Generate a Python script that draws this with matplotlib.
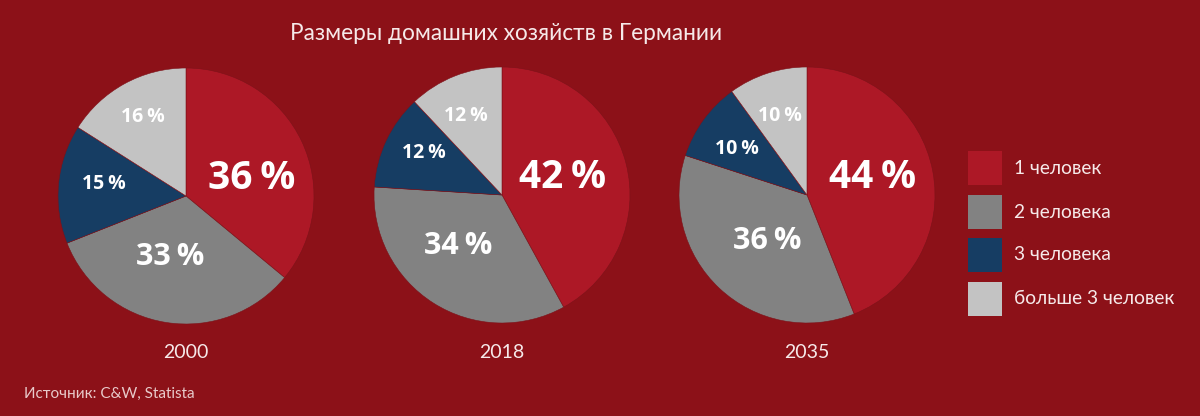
import matplotlib
matplotlib.use("Agg")
import matplotlib.pyplot as plt
from matplotlib.patches import Rectangle

# ---- data ----
years = ["2000", "2018", "2035"]
categories = ["1 человек", "2 человека", "3 человека", "больше 3 человек"]
shares_2000 = [36, 33, 15, 16]
shares_2018 = [42, 34, 12, 12]
shares_2035 = [44, 36, 10, 10]
all_shares = [shares_2000, shares_2018, shares_2035]
title = "Размеры домашних хозяйств в Германии"
source = "Источник: C&W, Statista"

# ---- style ----
W, H = 1200, 416
bg = "#8c1118"
colors = ["#ad1826", "#828282", "#163d63", "#c3c3c3"]
txt = "#f6e9e9"
font = ["Lato", "DejaVu Sans"]
bold_font = ["Open Sans", "DejaVu Sans"]

fig = plt.figure(figsize=(W / 100, H / 100), dpi=100)
fig.patch.set_facecolor(bg)

centers = [(186, 196), (502, 195), (807, 195)]
radius = 128
# label positions in units of radius (x, y), and font sizes
label_pos = [
    [(0.51, 0.14), (-0.12, -0.48), (-0.64, 0.09), (-0.34, 0.62)],
    [(0.47, 0.14), (-0.34, -0.40), (-0.61, 0.33), (-0.28, 0.62)],
    [(0.51, 0.14), (-0.31, -0.36), (-0.55, 0.36), (-0.21, 0.62)],
]
label_sizes = [28, 22, 14, 14]

for i, (shares, (cx, cy)) in enumerate(zip(all_shares, centers)):
    ax = fig.add_axes([(cx - radius) / W, (H - cy - radius) / H,
                       2 * radius / W, 2 * radius / H])
    ax.pie(shares, colors=colors, startangle=90, counterclock=False,
           wedgeprops=dict(edgecolor="#7d1219", linewidth=0.4))
    ax.set_xlim(-1, 1)
    ax.set_ylim(-1, 1)
    ax.set_aspect("equal")
    ax.axis("off")
    for j, v in enumerate(shares):
        x, y = label_pos[i][j]
        ax.text(x, y, f"{v}\u2009%", ha="center", va="center", color="white",
                fontsize=label_sizes[j], fontweight="bold", family=bold_font)
    fig.text(cx / W, 1 - 353 / H, years[i], ha="center", va="center",
             color=txt, fontsize=14, family=font)

fig.text(506 / W, 1 - 33 / H, title, ha="center", va="center",
         color=txt, fontsize=16.3, family=font)
fig.text(24 / W, 1 - 394 / H, source, ha="left", va="center",
         color="#e8caca", fontsize=11, family=font)

# legend
leg_y = [168, 212, 255, 299]
for c, lab, y in zip(colors, categories, leg_y):
    fig.patches.append(Rectangle((968 / W, 1 - (y + 17) / H), 34 / W, 34 / H,
                                 transform=fig.transFigure, facecolor=c,
                                 edgecolor="none"))
    fig.text(1014 / W, 1 - y / H, lab, ha="left", va="center",
             color=txt, fontsize=13.8, family=font)

fig.savefig("out.png", dpi=100, facecolor=bg)
